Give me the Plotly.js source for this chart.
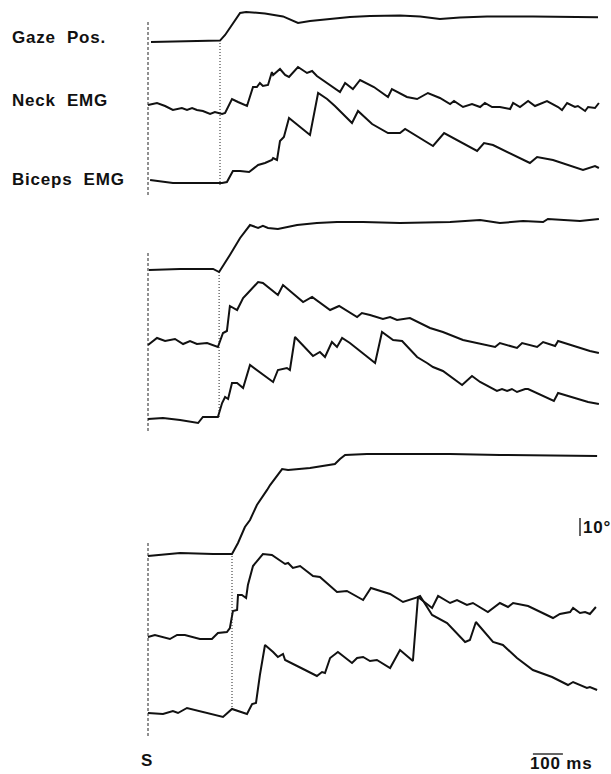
<!DOCTYPE html>
<html>
<head>
<meta charset="utf-8">
<script src="https://cdn.plot.ly/plotly-3.0.1.min.js"></script>
<style>
html,body{margin:0;padding:0;background:#fff;}
#chart{width:611px;height:774px;}
</style>
</head>
<body>
<div id="chart"></div>
<script>
// ---------- DATA (time in ms after stimulus S; gaze in degrees; EMG in arbitrary units) ----------
const traceNames = ["Gaze Pos.", "Neck EMG", "Biceps EMG"];
const onsetMs = [240, 237, 280];          // dotted line: gaze onset, per trial
const scaleDeg = 10;                       // vertical scale bar
const scaleMs = 100;                       // horizontal scale bar

// Trial 1
const gaze1T = [10,140,240,257,273,293,307,327,390,450,480,500,540,617,673,740,840,907,973,1040,1130,1283,1397,1500];
const gaze1V = [0,0.3,0.8,3.9,7.8,12.8,16.1,16.7,15.8,14.2,12.2,10.6,11.7,13.1,13.9,14.4,14.7,14.2,12.8,13.6,14.1,14.1,13.7,13.7];
const neck1T = [0,30,57,83,113,130,147,163,183,207,223,247,257,280,300,330,350,363,373,383,400,413,417,440,457,470,500,530,547,563,640,657,683,707,753,800,813,840,863,897,933,973,1007,1020,1050,1080,1107,1123,1147,1173,1207,1217,1240,1267,1290,1330,1367,1380,1397,1423,1433,1457,1467,1490,1503];
const neck1V = [3,5,2,-2,0,-2,0,-2,-3,-6,-4,-6,-5,9,6,2,21,21,25,22,23,36,33,39,33,31,41,35,37,32,16,25,19,28,21,11,19,15,11,9,15,10,4,7,1,4,1,5,1,1,-1,5,1,7,2,7,1,-2,5,1,2,-3,1,0,5];
const biceps1T = [7,83,173,247,263,283,307,337,367,390,413,417,430,433,440,453,470,540,567,597,623,680,700,747,800,840,857,950,987,1097,1120,1150,1273,1297,1350,1450,1490,1503];
const biceps1V = [3,0,0,0,1,12,12,11,18,20,23,25,23,28,42,46,65,48,90,84,77,60,72,59,50,50,54,37,50,32,40,38,20,26,23,13,17,15];

// Trial 2
const gaze2T = [3,107,217,237,273,307,340,367,383,400,433,497,563,630,717,840,1007,1107,1173,1250,1317,1333,1440,1503];
const gaze2V = [-0.3,0.3,0.3,-1.4,8.1,17.5,24.7,23.1,24.2,23.1,22.5,24.7,25.8,26.4,26.4,25.8,26.4,27.5,25.8,26.9,26.4,28.1,26.9,28.1];
const neck2T = [0,30,57,90,117,140,163,197,233,250,263,273,297,317,333,367,383,433,450,517,547,607,637,697,713,740,783,807,830,873,940,983,1050,1157,1173,1230,1247,1297,1317,1357,1367,1440,1473,1503];
const neck2V = [-2,5,2,4,-1,2,-1,0,-4,10,12,37,33,45,50,61,60,48,58,41,46,33,37,26,30,28,24,26,23,25,15,11,3,-4,0,-5,0,-4,1,-3,2,-5,-8,-10];
const biceps2T = [0,50,107,167,183,233,247,257,267,280,297,317,340,417,433,463,473,490,550,573,590,613,630,647,673,757,780,817,847,897,930,950,983,1047,1080,1107,1163,1180,1197,1213,1230,1257,1267,1353,1367,1423,1467,1503];
const biceps2V = [-1,0,-2,-5,1,1,15,21,19,35,35,30,53,36,48,50,48,81,62,66,61,76,71,80,75,55,86,78,77,61,55,51,47,33,42,36,27,29,27,29,26,29,29,17,25,20,16,14];

// Trial 3
const gaze3T = [0,107,217,280,300,323,340,363,397,407,447,467,540,597,623,640,657,730,840,1007,1173,1390,1497];
const gaze3V = [-1.1,0.6,0,0,6.1,15,18.9,27.2,35.6,38.3,47.2,46.7,47.8,49.4,50,52.8,55,55.6,55.6,55.6,55,54.4,54.4];
const neck3T = [0,23,73,97,123,173,213,233,263,273,283,297,300,313,327,333,350,383,413,457,467,483,507,550,573,630,663,680,717,743,783,807,850,900,947,967,1007,1030,1063,1083,1133,1173,1200,1217,1267,1350,1373,1407,1417,1440,1457,1473,1493];
const neck3V = [0,2,-2,2,2,-2,-2,4,5,9,26,27,42,42,39,52,71,83,82,73,74,69,71,61,60,45,46,43,37,49,45,43,35,40,29,41,34,37,32,34,25,34,30,34,31,19,23,25,29,24,25,23,30];
const biceps3T = [0,50,83,100,130,173,250,280,330,347,360,373,390,417,433,450,457,517,563,580,590,607,633,680,697,717,740,763,807,840,883,900,907,947,997,1057,1073,1093,1150,1183,1230,1283,1347,1400,1417,1463,1473,1497];
const biceps3V = [-1,-2,1,-1,4,1,-5,3,-2,8,9,37,67,60,55,58,52,43,36,40,39,54,60,49,54,55,51,52,44,62,51,115,116,97,89,70,72,90,70,67,54,42,35,27,30,24,25,22];

// ---------- LAYOUT CONSTANTS ----------
const PX_PER_MS = 0.3, S_PX = 148, W = 611, H = 774;
const DEG_GAIN = 1.8;    // vertical units per degree
const panels = [
  {traces:[[gaze1T,gaze1V],[neck1T,neck1V],[biceps1T,biceps1V]], base:[732,666,591], dash:[752,577], dot:[731,587]},
  {traces:[[gaze2T,gaze2V],[neck2T,neck2V],[biceps2T,biceps2V]], base:[504.5,431,356], dash:[521,341], dot:[502,356]},
  {traces:[[gaze3T,gaze3V],[neck3T,neck3V],[biceps3T,biceps3V]], base:[220,137,62], dash:[231,36], dot:[221,67]}
];

const data = [];
const lineStyle = {color:'#111', width:2};
panels.forEach((p, pi) => {
  p.traces.forEach((tr, ti) => {
    const gain = ti === 0 ? DEG_GAIN : 1;
    data.push({x: tr[0], y: tr[1].map(v => p.base[ti] + v*gain), mode:'lines',
      line: lineStyle, hoverinfo:'skip', showlegend:false});
  });
  data.push({x:[0,0], y:p.dash, mode:'lines', line:{color:'#222', width:1, dash:'3px,2px'}, hoverinfo:'skip', showlegend:false});
  data.push({x:[onsetMs[pi], onsetMs[pi]], y:p.dot, mode:'lines', line:{color:'#222', width:1, dash:'1px,2px'}, hoverinfo:'skip', showlegend:false});
});

// scale bars
const degBarT = 1440, degBarY0 = 238;
data.push({x:[degBarT, degBarT], y:[degBarY0, degBarY0 + scaleDeg*DEG_GAIN], mode:'lines', line:{color:'#111', width:1.3}, hoverinfo:'skip', showlegend:false});
const msBarT0 = 1283, msBarY = 20;
data.push({x:[msBarT0, msBarT0 + scaleMs], y:[msBarY, msBarY], mode:'lines', line:{color:'#111', width:1.3}, hoverinfo:'skip', showlegend:false});

const font = {family:'"Liberation Sans", Arial, sans-serif', size:17, color:'#111', weight:700};
const labelX = (10 - S_PX)/PX_PER_MS;
const annotations = [
  {x:labelX, y:737, text:'Gaze\u00a0\u00a0Pos.'},
  {x:labelX, y:674, text:'Neck\u00a0\u00a0EMG'},
  {x:labelX, y:595, text:'Biceps\u00a0\u00a0EMG'},
  {x:(581 - S_PX)/PX_PER_MS, y:246.5, text:'10°'},
  {x:(139 - S_PX)/PX_PER_MS, y:14, text:'S'},
  {x:msBarT0 - 18, y:11, text:'100\u00a0ms'}
].map(a => Object.assign({xref:'x', yref:'y', xanchor:'left', yanchor:'middle', align:'left', showarrow:false, font:font}, a));

const layout = {
  width:W, height:H,
  margin:{l:0, r:0, t:0, b:0, pad:0},
  paper_bgcolor:'#fff', plot_bgcolor:'#fff',
  xaxis:{range:[-S_PX/PX_PER_MS, (W - S_PX)/PX_PER_MS], visible:false, fixedrange:true},
  yaxis:{range:[0, H], visible:false, fixedrange:true},
  annotations: annotations,
  showlegend:false
};

Plotly.newPlot('chart', data, layout, {displayModeBar:false, staticPlot:true}).then(() => {
  document.querySelectorAll('.annotation-text').forEach(el => { el.style.letterSpacing = '0.8px'; });
});
</script>
</body>
</html>
